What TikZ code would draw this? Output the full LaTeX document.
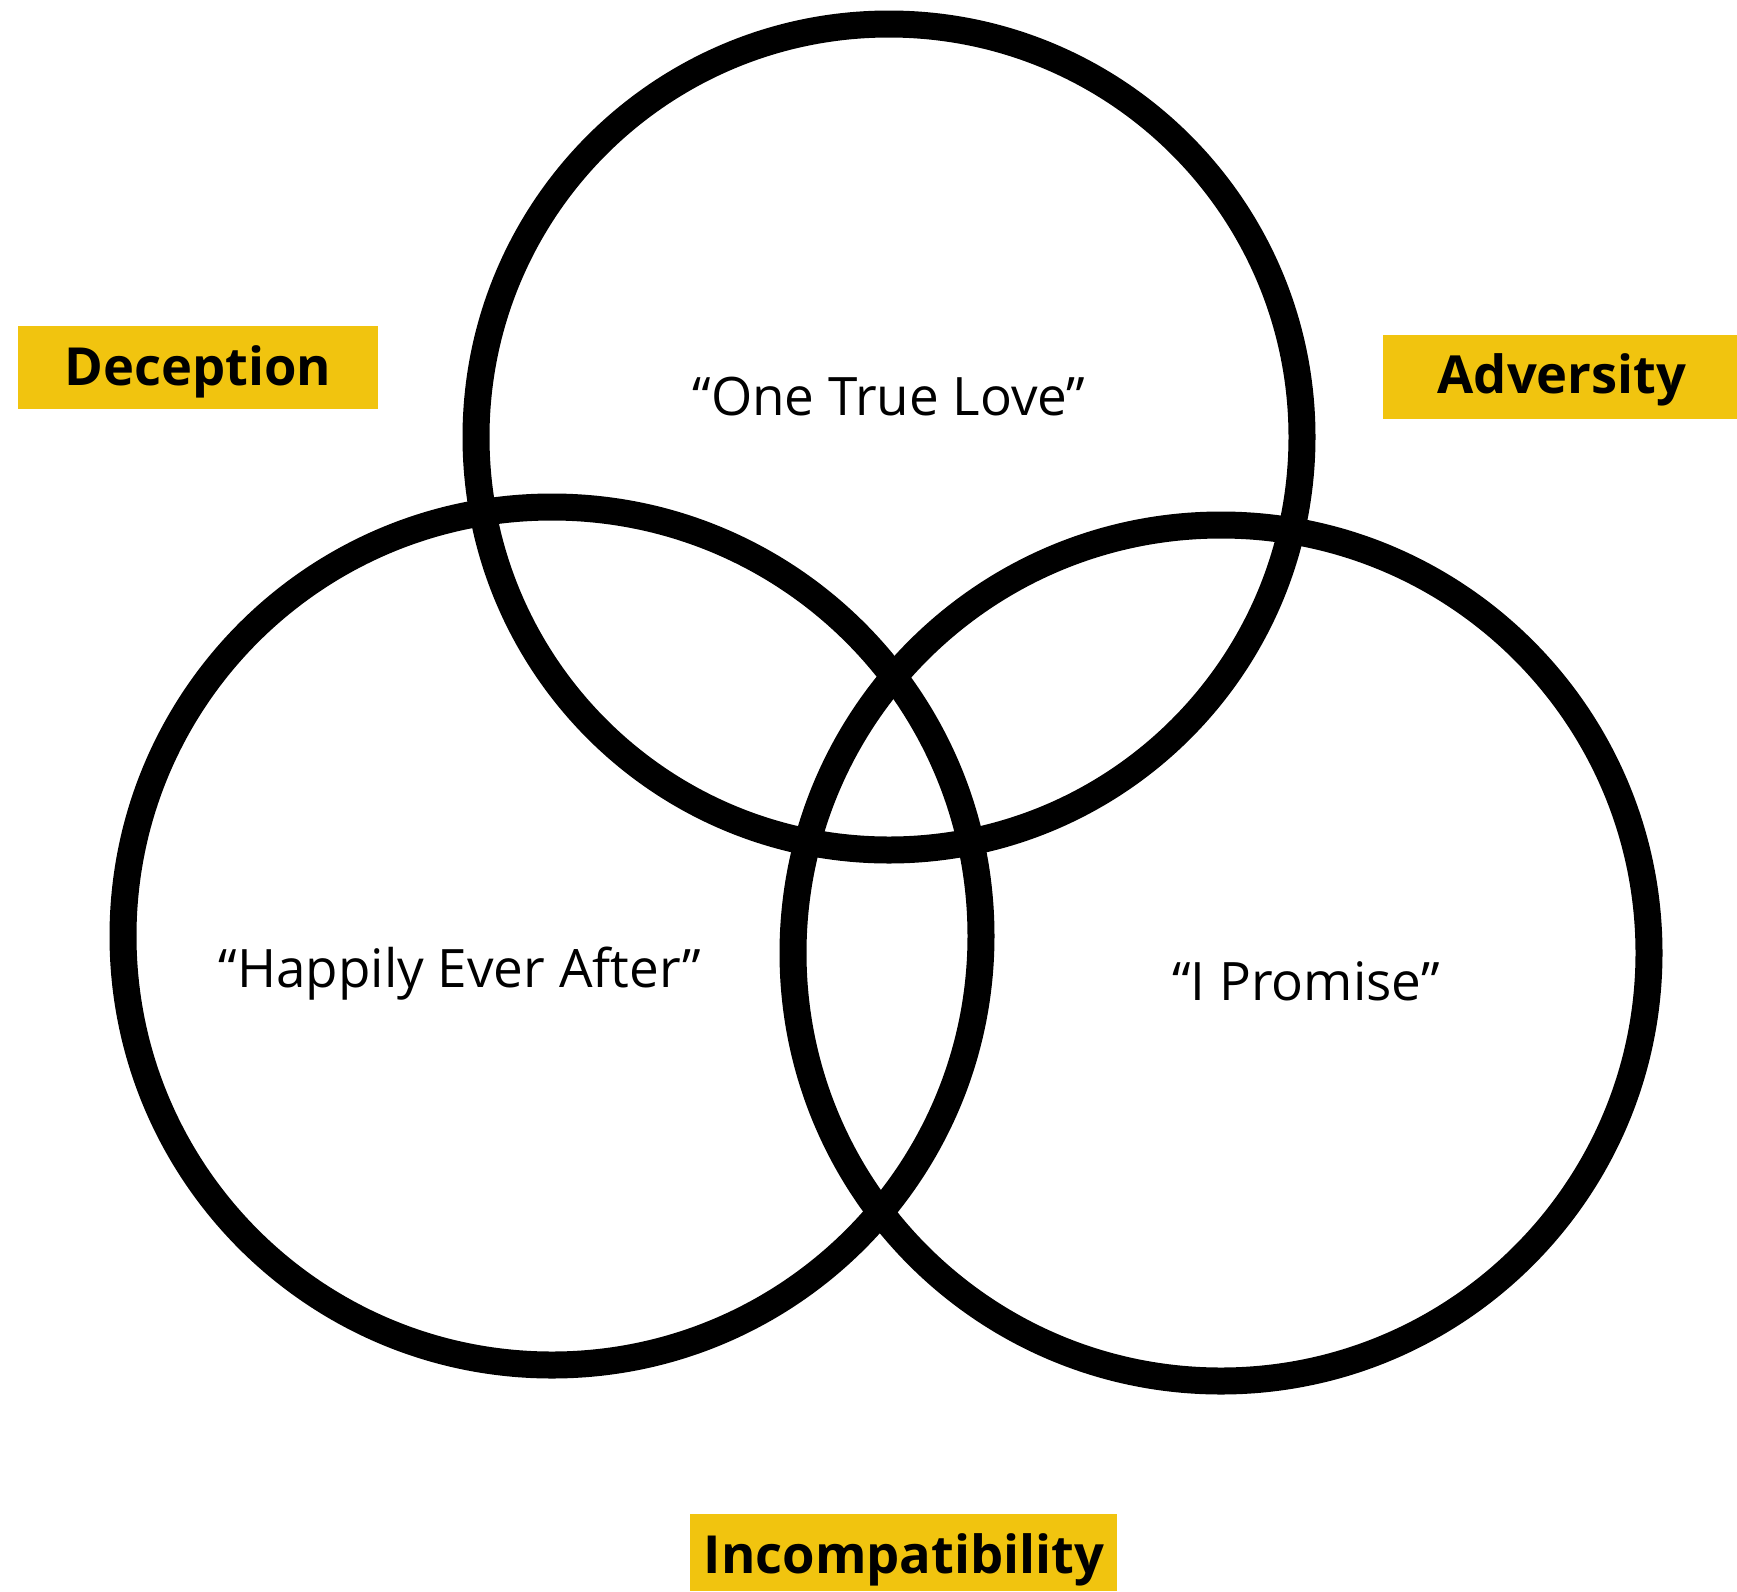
\documentclass[tikz,border=0pt]{standalone}
\usepackage{fontspec}
\setmainfont{Open Sans}
\definecolor{tagyellow}{RGB}{241,196,15}
\begin{document}
\begin{tikzpicture}[x=1pt,y=-1pt,
  ring/.style={draw=black,line width=27pt},
  tag/.style={anchor=base,inner sep=0pt,font=\fontsize{52.5}{60}\selectfont\bfseries},
  phrase/.style={anchor=base,inner sep=0pt,font=\fontsize{53}{60}\selectfont}]
  \useasboundingbox (0,0) rectangle (1737,1591);
  % three overlapping rings
  \draw[ring] (889,437) circle (413);
  \draw[ring] (552,936) circle (429);
  \draw[ring] (1221,953) circle (428);
  % phrases inside the rings
  \node[phrase] (one) at (889,415) {“One True Love”};
  \node[phrase] (happy) at (460,987) {“Happily Ever After”};
  \node[phrase] (promise) at (1306,1000) {“I Promise”};
  % highlighted tags around the rings
  \fill[tagyellow] (18,326) rectangle (378,409);
  \node[tag] (dec) at (198,385) {Deception};
  \fill[tagyellow] (1383,335) rectangle (1737,419);
  \node[tag] (adv) at (1562,393) {Adversity};
  \fill[tagyellow] (690,1514) rectangle (1117,1591);
  \node[tag] (inc) at (904,1573) {Incompatibility};
\end{tikzpicture}
\end{document}
